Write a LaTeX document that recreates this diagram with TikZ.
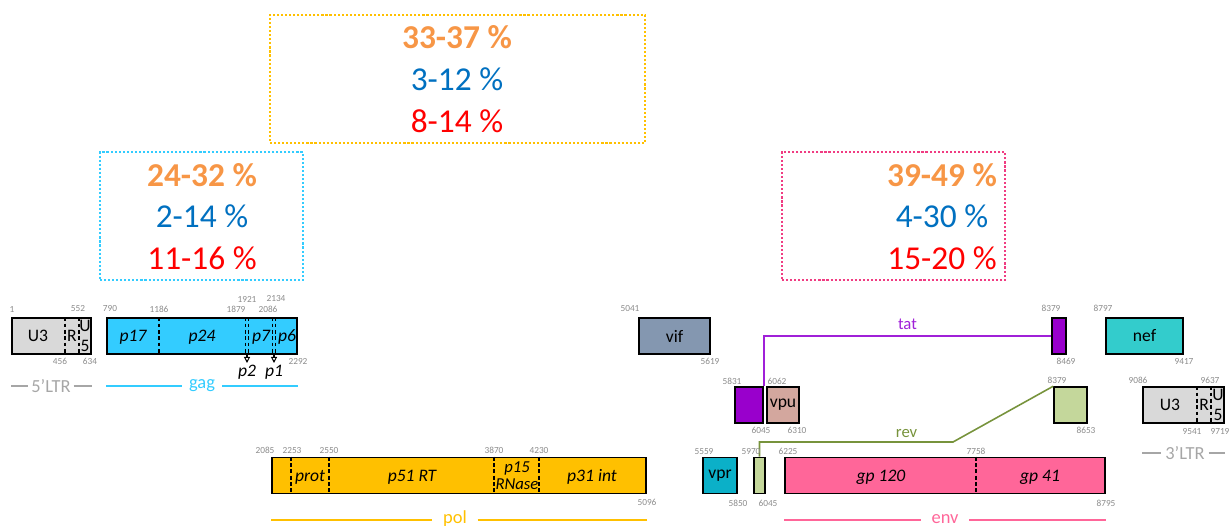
\documentclass[tikz,border=0pt]{standalone}
\usepackage{fontspec}
\setmainfont{Carlito}
\usepackage{tikz}
\usetikzlibrary{arrows.meta}

\definecolor{ltrgrey}{HTML}{D9D9D9}
\definecolor{ltrtext}{HTML}{A6A6A6}
\definecolor{numgrey}{HTML}{8C8C8C}
\definecolor{gagblue}{HTML}{33CCFF}
\definecolor{polyellow}{HTML}{FFC000}
\definecolor{envpink}{HTML}{FF6699}
\definecolor{envdots}{HTML}{F03C82}
\definecolor{vifgrey}{HTML}{8497B0}
\definecolor{tatpurple}{HTML}{9900CC}
\definecolor{tatline}{HTML}{A020D8}
\definecolor{vpurose}{HTML}{D3A79E}
\definecolor{nefteal}{HTML}{33CCCC}
\definecolor{vprcyan}{HTML}{0BB0C8}
\definecolor{revgreen}{HTML}{C4D79B}
\definecolor{revline}{HTML}{77933C}
\definecolor{rangeorange}{HTML}{F79646}
\definecolor{rangeblue}{HTML}{0070C0}
\definecolor{rangered}{HTML}{FF0000}

\tikzset{
	gene/.style={draw, line width=0.9pt, minimum height=0.72cm, inner sep=0pt, font=\fontsize{10}{10}\selectfont},
	seg/.style={inner sep=0pt, align=center, font=\fontsize{10}{11}\selectfont\itshape},
	divider/.style={line width=0.9pt, dash pattern=on 2.2pt off 1.4pt},
	num/.style={inner sep=0pt, text=numgrey, font=\fontsize{5.3}{5.3}\selectfont},
	freqbox/.style={line width=1.3pt, dash pattern=on 1.2pt off 1.1pt, minimum height=2.56cm, inner sep=0pt},
	freqtext/.style={align=center, inner sep=0pt, font=\fontsize{19}{23.8}\selectfont},
	region/.style={inner ysep=0pt, inner xsep=4pt, font=\fontsize{10.5}{10.5}\selectfont},
	cleave/.style={line width=0.6pt, -{Triangle[open, length=3.5pt, width=3.5pt]}},
}

\begin{document}
\begin{tikzpicture}[x=0.02cm, y=-0.02cm]
	\useasboundingbox (0,0) rectangle (1229,528);

	\draw
		(457.5,79) node [freqbox, draw=polyellow, minimum width=7.5cm] 	(polbox) {}
		(201.5,216) node [freqbox, draw=gagblue, minimum width=4.06cm] 	(gagbox) {}
		(893.5,216) node [freqbox, draw=envdots, minimum width=4.46cm] 	(envbox) {}
		(457,79) node [freqtext] (polfreq) {\textcolor{rangeorange}{\textbf{33-37 \%}}\\\textcolor{rangeblue}{3-12 \%}\\\textcolor{rangered}{8-14 \%}}
		(202,216.5) node [freqtext] (gagfreq) {\textcolor{rangeorange}{\textbf{24-32 \%}}\\\textcolor{rangeblue}{2-14 \%}\\\textcolor{rangered}{11-16 \%}}
		(942,216.5) node [freqtext] (envfreq) {\textcolor{rangeorange}{\textbf{39-49 \%}}\\\textcolor{rangeblue}{4-30 \%}\\\textcolor{rangered}{15-20 \%}}
		;

	\draw
		(51.5,336) node [gene, fill=ltrgrey, minimum width=1.58cm] 	(ltr5) {}
		(202,336) node [gene, fill=gagblue, minimum width=3.8cm] 	(gag) {}
		(674.5,336) node [gene, fill=vifgrey, minimum width=1.42cm] 	(vif) {vif}
		(1059,336) node [gene, fill=tatpurple, minimum width=0.28cm] 	(tat2) {}
		(1144.5,336) node [gene, fill=nefteal, minimum width=1.54cm] 	(nef) {nef}
		(749,405) node [gene, fill=tatpurple, minimum width=0.56cm] 	(tat1) {}
		(783,405) node [gene, fill=vpurose, minimum width=0.64cm] 	(vpu) {vpu}
		(1070.5,405) node [gene, fill=revgreen, minimum width=0.66cm] 	(rev2) {}
		(1183.5,405) node [gene, fill=ltrgrey, minimum width=1.62cm] 	(ltr3) {}
		(459,475.5) node [gene, fill=polyellow, minimum width=7.48cm] 	(pol) {}
		(720,475.5) node [gene, fill=vprcyan, minimum width=0.68cm] 	(vpr) {vpr}
		(759.5,475.5) node [gene, fill=revgreen, minimum width=0.22cm] 	(rev1) {}
		(945,475.5) node [gene, fill=envpink, minimum width=6.4cm] 	(env) {}
		;

	\draw[divider]
		(65,0 |- ltr5.north) -- (65,0 |- ltr5.south)
		(79,0 |- ltr5.north) -- (79,0 |- ltr5.south)
		(159,0 |- gag.north) -- (159,0 |- gag.south)
		(245.5,0 |- gag.north) -- (245.5,0 |- gag.south)
		(248.5,0 |- gag.north) -- (248.5,0 |- gag.south)
		(272.5,0 |- gag.north) -- (272.5,0 |- gag.south)
		(275.5,0 |- gag.north) -- (275.5,0 |- gag.south)
		(1197,0 |- ltr3.north) -- (1197,0 |- ltr3.south)
		(1211,0 |- ltr3.north) -- (1211,0 |- ltr3.south)
		(291,0 |- pol.north) -- (291,0 |- pol.south)
		(329,0 |- pol.north) -- (329,0 |- pol.south)
		(494,0 |- pol.north) -- (494,0 |- pol.south)
		(539,0 |- pol.north) -- (539,0 |- pol.south)
		(976,0 |- env.north) -- (976,0 |- env.south)
		;

	\draw
		(38,336) node [gene, draw=none] 	(u3a) {U3}
		(72,336) node [gene, draw=none] 	(ra) {R}
		(85,336) node [gene, draw=none, align=center, font=\fontsize{10}{11.3}\selectfont] 	(u5a) {U\\5}
		(1170,405) node [gene, draw=none] 	(u3b) {U3}
		(1204,405) node [gene, draw=none] 	(rb) {R}
		(1218,405) node [gene, draw=none, align=center, font=\fontsize{10}{11.3}\selectfont] 	(u5b) {U\\5}
		(133,337) node [seg] 	(p17) {p17}
		(202,337) node [seg] 	(p24) {p24}
		(261,337) node [seg] 	(p7) {p7}
		(287,337) node [seg] 	(p6) {p6}
		(247,372) node [seg] 	(p2) {p2}
		(274,372) node [seg] 	(p1) {p1}
		(310,477) node [seg] 	(prot) {prot}
		(412,477) node [seg] 	(p51) {p51 RT}
		(517,476) node [seg, font=\fontsize{9.5}{9.6}\selectfont\itshape] 	(p15) {p15\\RNase}
		(592,477) node [seg] 	(p31) {p31 int}
		(881,477) node [seg] 	(gp120) {gp 120}
		(1040,477) node [seg] 	(gp41) {gp 41}
		;

	\coordinate (p2tip) at (247,363);
	\coordinate (p1tip) at (274,363);
	\draw[cleave] (p2tip |- gag.south) -- (p2tip);
	\draw[cleave] (p1tip |- gag.south) -- (p1tip);

	\draw[tatline, line width=0.8pt] (tat1.north east) |- node [pos=0.75, above, font=\fontsize{9.5}{9.5}\selectfont] (tatlbl) {tat} (tat2.west);
	\coordinate (revbend) at (953,442);
	\draw[revline, line width=0.9pt] (rev1.north) |- node [pos=0.88, above, inner sep=2pt, font=\fontsize{9.5}{9.5}\selectfont] (revlbl) {rev} (revbend) -- (rev2.north west);

	\draw
		(51,386) node [region, text=ltrtext, inner xsep=1.5pt] 	(ltr5lbl) {5'LTR}
		(202,386) node [region, text=gagblue] 	(gaglbl) {gag}
		(455,519) node [region, text=polyellow, inner xsep=6pt] 	(pollbl) {pol}
		(945,519) node [region, text=envpink, inner xsep=6pt] 	(envlbl) {env}
		(1185,453) node [region, text=ltrtext, inner xsep=2pt] 	(ltr3lbl) {3'LTR}
		;
	\draw[ltrtext, line width=0.9pt]
		(ltr5.west |- ltr5lbl) -- (ltr5lbl.west)
		(ltr5lbl.east) -- (ltr5.east |- ltr5lbl)
		(ltr3.west |- ltr3lbl) -- (ltr3lbl.west)
		(ltr3lbl.east) -- (ltr3.east |- ltr3lbl);
	\draw[gagblue, line width=0.9pt]
		(gag.west |- gaglbl) -- (gaglbl.west)
		(gaglbl.east) -- (gag.east |- gaglbl);
	\draw[polyellow, line width=0.9pt]
		(pol.west |- 0,520) -- (pollbl.west |- 0,520)
		(pollbl.east |- 0,520) -- (pol.east |- 0,520);
	\draw[envpink, line width=0.9pt]
		(env.west |- 0,520) -- (envlbl.west |- 0,520)
		(envlbl.east |- 0,520) -- (env.east |- 0,520);

	\draw
		(12,309) node [num] 	(n1) {1}
		(78,309) node [num] 	(n552) {552}
		(60,361) node [num] 	(n456) {456}
		(90,361) node [num] 	(n634) {634}
		(110,309) node [num] 	(n790) {790}
		(159,309) node [num] 	(n1186) {1186}
		(236,309) node [num] 	(n1879) {1879}
		(247,299) node [num] 	(n1921) {1921}
		(268,309) node [num] 	(n2086) {2086}
		(276,299) node [num] 	(n2134) {2134}
		(298,361) node [num] 	(n2292) {2292}
		(265,450) node [num] 	(n2085) {2085}
		(292,450) node [num] 	(n2253) {2253}
		(329,450) node [num] 	(n2550) {2550}
		(494,450) node [num] 	(n3870) {3870}
		(539,450) node [num] 	(n4230) {4230}
		(647,502) node [num] 	(n5096) {5096}
		(630,309) node [num] 	(n5041) {5041}
		(710,361) node [num] 	(n5619) {5619}
		(732,381) node [num] 	(n5831) {5831}
		(777,381) node [num] 	(n6062) {6062}
		(761,430) node [num] 	(n6045a) {6045}
		(797,430) node [num] 	(n6310) {6310}
		(1051,308) node [num] 	(n8379a) {8379}
		(1066,361) node [num] 	(n8469) {8469}
		(1103,308) node [num] 	(n8797) {8797}
		(1184,361) node [num] 	(n9417) {9417}
		(1057,380) node [num] 	(n8379b) {8379}
		(1086,430) node [num] 	(n8653) {8653}
		(1138,380) node [num] 	(n9086) {9086}
		(1210,380) node [num] 	(n9637) {9637}
		(1192,431) node [num] 	(n9541) {9541}
		(1220,431) node [num] 	(n9719) {9719}
		(704,451) node [num] 	(n5559) {5559}
		(751,451) node [num] 	(n5970) {5970}
		(788,451) node [num] 	(n6225) {6225}
		(976,451) node [num] 	(n7758) {7758}
		(738,503) node [num] 	(n5850) {5850}
		(768,503) node [num] 	(n6045b) {6045}
		(1106,503) node [num] 	(n8795) {8795}
		;
\end{tikzpicture}
\end{document}
